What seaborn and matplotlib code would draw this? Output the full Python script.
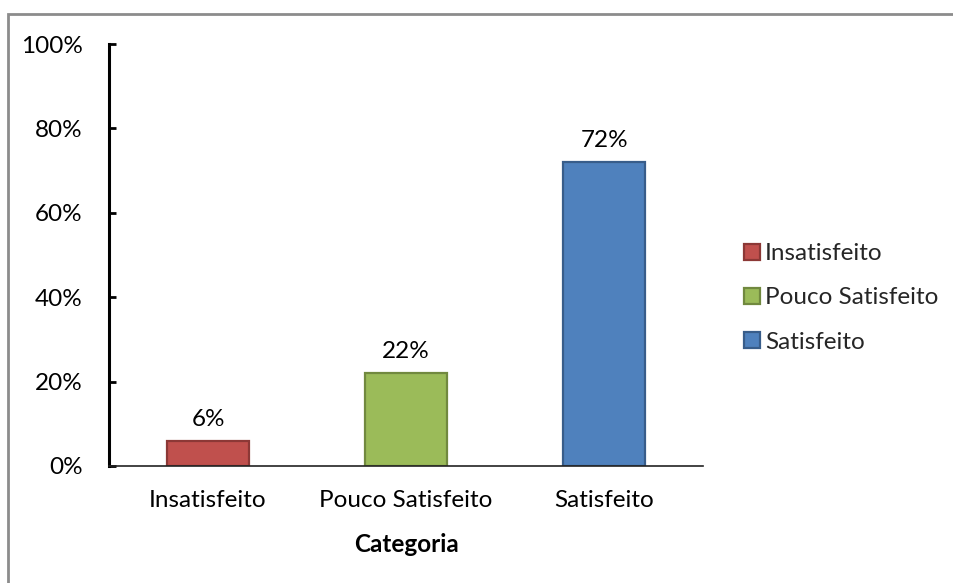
import matplotlib
matplotlib.use("Agg")
import matplotlib.pyplot as plt
import matplotlib.patches as mpatches
import seaborn as sns
import pandas as pd
from matplotlib.ticker import PercentFormatter

categories = ["Insatisfeito", "Pouco Satisfeito", "Satisfeito"]
shares = [0.06, 0.22, 0.72]
bar_labels = ["6%", "22%", "72%"]
fill_colors = ["#C0504D", "#9BBB59", "#4F81BD"]
edge_colors = ["#8C3836", "#71893F", "#385D8A"]
y_ticks = [0.0, 0.2, 0.4, 0.6, 0.8, 1.0]

sns.set_theme(style="white")
plt.rcParams["font.family"] = ["Lato", "DejaVu Sans"]
FS = 17.5

df = pd.DataFrame({"Categoria": categories, "share": shares})

fig = plt.figure(figsize=(9.54, 5.83), dpi=100)
ax = fig.add_axes([0.1143, 0.2007, 0.737 - 0.1143, 0.9245 - 0.2007])

sns.barplot(data=df, x="Categoria", y="share", hue="Categoria",
            palette=fill_colors, width=0.41, ax=ax, legend=False,
            saturation=1)

for patch, ec in zip(ax.patches, edge_colors):
    patch.set_edgecolor(ec)
    patch.set_linewidth(1.6)

for i, (v, lab) in enumerate(zip(shares, bar_labels)):
    ax.annotate(lab, (i, v), xytext=(0, 8), textcoords="offset points",
                ha="center", va="bottom", fontsize=FS, color="black")

ax.set_ylim(0, 1)
ax.set_xlim(-0.5, 2.5)
ax.set_yticks(y_ticks)
ax.yaxis.set_major_formatter(PercentFormatter(1.0, decimals=0))
ax.tick_params(axis="y", direction="in", length=5, width=2, color="black",
               pad=19, labelsize=FS, labelcolor="black", left=True)
ax.tick_params(axis="x", length=0, pad=17, labelsize=FS, labelcolor="black")

for s in ["top", "right"]:
    ax.spines[s].set_visible(False)
ax.spines["left"].set_color("black")
ax.spines["left"].set_linewidth(2.2)
ax.spines["bottom"].set_color("#222222")
ax.spines["bottom"].set_linewidth(1.2)

ax.set_ylabel("")
ax.set_xlabel("Categoria", fontsize=FS, fontweight="bold", color="black",
              labelpad=16)

handles = [mpatches.Patch(facecolor=fc, edgecolor=ec, linewidth=1.6, label=c)
           for c, fc, ec in zip(categories, fill_colors, edge_colors)]
fig.legend(handles=handles, loc="center left", bbox_to_anchor=(0.780, 0.489),
           frameon=False, fontsize=FS, handlelength=0.65, handleheight=0.65,
           handletextpad=0.2, labelspacing=0.95, borderpad=0, borderaxespad=0)

# Outer chart-area border
border = mpatches.Rectangle((8 / 954, -0.05), 1.1, 1 - 14 / 583 + 0.05,
                            transform=fig.transFigure, fill=False,
                            edgecolor="#8C8C8C", linewidth=2, clip_on=False)
fig.patches.append(border)

fig.savefig("out.png", dpi=100)
